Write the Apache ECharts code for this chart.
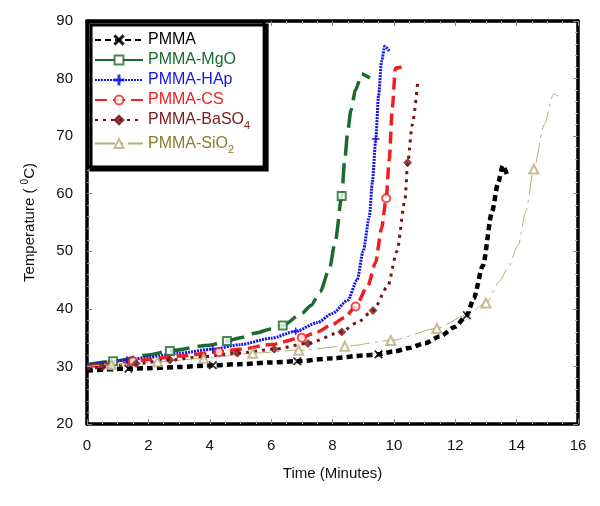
<!DOCTYPE html>
<html>
<head>
<meta charset="utf-8">
<title>Temperature vs Time</title>
<script src="https://cdn.jsdelivr.net/npm/echarts@6/dist/echarts.min.js"></script>
<style>
    html, body { margin: 0; padding: 0; background: #fff; }
    #chart { width: 600px; height: 506px; }
</style>
</head>
<body>
<div id="chart"></div>
<script>
// values (time in minutes, temperature in °C)
const pmmaTime = [0, 1.35, 2, 3, 4.1, 5, 6, 6.85, 8, 9, 9.5, 10, 10.5, 11, 11.5, 12, 12.38, 12.6, 12.9, 13.2, 13.4, 13.55, 13.7];
const pmmaTemp = [29.3, 29.6, 29.7, 29.9, 30.2, 30.4, 30.7, 30.9, 31.4, 31.9, 32.1, 32.6, 33.2, 34, 35.2, 36.9, 38.9, 41.8, 47.5, 56.9, 62, 64.9, 63.1];
const pmmaMarks = [1, 4, 7, 10, 16];

const mgoTime = [0, 0.85, 2, 2.7, 4, 4.56, 5, 5.5, 6, 6.38, 7, 7.3, 7.6, 7.9, 8.1, 8.3, 8.4, 8.5, 8.6, 8.75, 8.95, 9.22];
const mgoTemp = [30.3, 30.9, 32, 32.7, 33.7, 34.4, 35, 35.8, 36.5, 37.1, 39.2, 40.6, 43, 47, 52, 59.6, 66, 71, 74.5, 78, 80.8, 80.1];
const mgoMarks = [1, 3, 5, 9, 15];

const hapTime = [0, 1.3, 2, 3, 4.1, 5, 6, 6.8, 7.5, 8, 8.5, 8.8, 9.0, 9.2, 9.3, 9.41, 9.5, 9.6, 9.7, 9.85];
const hapTemp = [30.2, 31.1, 31.6, 32.3, 33.0, 33.8, 34.9, 36.1, 37.6, 39.2, 41.5, 45, 50, 56, 62, 69.5, 77, 83, 85.6, 84.8];
const hapMarks = [1, 4, 7, 15];

const csTime = [0, 1.5, 2, 3, 4.3, 5, 6, 7, 7.5, 8, 8.4, 8.75, 9.15, 9.4, 9.6, 9.75, 9.85, 9.95, 10.05, 10.25];
const csTemp = [29.9, 30.9, 31.2, 31.8, 32.5, 33, 33.8, 35, 36, 37.3, 38.5, 40.4, 44, 48, 54, 59.2, 66, 75, 81.8, 82];
const csMarks = [1, 4, 7, 11, 15];

const baTime = [0, 0.5, 1.6, 2.7, 3.8, 4.9, 6.1, 7.2, 8.3, 8.8, 9.32, 9.8, 10.1, 10.36, 10.45, 10.6, 10.78];
const baTemp = [29.6, 29.9, 30.5, 31.1, 31.7, 32.3, 33, 34, 36, 37.6, 39.7, 43.9, 50, 58.8, 65.4, 72, 79.6];
const baMarks = [1, 2, 3, 4, 5, 6, 7, 8, 10, 14];

const sioTime = [0, 0.8, 2.3, 3.8, 5.4, 6.9, 8.4, 9.9, 11.4, 12.35, 13.0, 13.45, 13.7, 14.05, 14.3, 14.56, 14.9, 15.2, 15.35];
const sioTemp = [30, 30.3, 30.8, 31.4, 32.3, 32.8, 33.5, 34.5, 36.6, 38.9, 41, 44.8, 47, 51, 56.9, 64.3, 72, 77.3, 77];
const sioMarks = [1, 2, 3, 4, 5, 6, 7, 8, 10, 15];

const seriesNames = ['PMMA', 'PMMA-MgO', 'PMMA-HAp', 'PMMA-CS', 'PMMA-BaSO4', 'PMMA-SiO2'];
const xTicks = { min: 0, max: 16, step: 2 };
const yTicks = { min: 20, max: 90, step: 10 };

const FONT = 'Liberation Sans, Arial, sans-serif';
const crossPath = 'path://M0,1L1,0L5,4L9,0L10,1L6,5L10,9L9,10L5,6L1,10L0,9L4,5Z';
const plusPath = 'path://M4.4,0L5.6,0L5.6,4.4L10,4.4L10,5.6L5.6,5.6L5.6,10L4.4,10L4.4,5.6L0,5.6L0,4.4L4.4,4.4Z';

// only the listed points carry a marker, the rest of the line is bare
function buildData(times, temps, marks) {
    return times.map((t, i) => {
        const item = { value: [t, temps[i]] };
        if (marks.indexOf(i) < 0) item.symbol = 'none';
        return item;
    });
}

function lineSeries(name, times, temps, marks, color, width, dash, symbol, size) {
    return {
        name: name,
        type: 'line',
        data: buildData(times, temps, marks),
        smooth: 0.25,
        smoothMonotone: 'x',
        showSymbol: true,
        symbol: symbol,
        symbolSize: size,
        lineStyle: { color: color, width: width, type: dash, cap: 'butt' },
        itemStyle: { color: color, borderColor: color, borderWidth: 0.8, opacity: 0.8 },
        emphasis: { disabled: true },
        animation: false
    };
}

const series = [
    lineSeries(seriesNames[0], pmmaTime, pmmaTemp, pmmaMarks, '#000000', 4.5, [6, 4], crossPath, 8),
    lineSeries(seriesNames[1], mgoTime, mgoTemp, mgoMarks, '#1b6b2e', 3.5, [20, 8], 'emptyRect', 8),
    lineSeries(seriesNames[2], hapTime, hapTemp, hapMarks, '#1515e6', 3, [2, 1], plusPath, 7),
    lineSeries(seriesNames[3], csTime, csTemp, csMarks, '#f01e1e', 3.5, [12, 6], 'emptyCircle', 8),
    lineSeries(seriesNames[4], baTime, baTemp, baMarks, '#7a1212', 3, [3, 5], 'diamond', 8),
    lineSeries(seriesNames[5], sioTime, sioTemp, sioMarks, '#b9ab7c', 1, [20, 5, 3, 5], 'emptyTriangle', 9)
];

const legendColors = ['#000000', '#1b6b2e', '#1515e6', '#f01e1e', '#7a1a1a', '#8c7a30'];

function legendLabel(name) {
    const i = seriesNames.indexOf(name);
    if (name === 'PMMA-BaSO4') return '{t' + i + '|PMMA-BaSO}{s' + i + '|4}';
    if (name === 'PMMA-SiO2') return '{t' + i + '|PMMA-SiO}{s' + i + '|2}';
    return '{t' + i + '|' + name + '}';
}

const legendRich = {};
legendColors.forEach((c, i) => {
    legendRich['t' + i] = { color: c, fontSize: 16, fontFamily: FONT };
    legendRich['s' + i] = { color: c, fontSize: 11, fontFamily: FONT, padding: [12, 0, 0, 0] };
});

function frameAxis(extra) {
    return Object.assign({
        axisLine: { show: true, onZero: false, lineStyle: { color: '#000', width: 3.5 } },
        axisTick: { show: true, inside: true, length: 5, lineStyle: { color: '#888', width: 1 } },
        minorTick: { show: true, splitNumber: 4, length: 3, lineStyle: { color: '#aaa' } },
        splitLine: { show: false }
    }, extra);
}

const chart = echarts.init(document.getElementById('chart'), null, { renderer: 'canvas' });

chart.setOption({
    backgroundColor: '#ffffff',
    animation: false,
    grid: { left: 87, right: 22, top: 21, bottom: 82 },
    legend: {
        left: 88,
        top: 22,
        orient: 'vertical',
        data: seriesNames,
        formatter: legendLabel,
        itemWidth: 48,
        itemHeight: 11,
        itemGap: 4,
        padding: [10, 14, 12, 6],
        backgroundColor: '#fff',
        borderColor: '#000',
        borderWidth: 3,
        shadowColor: '#000',
        shadowBlur: 0,
        shadowOffsetX: 3,
        shadowOffsetY: 3,
        selectedMode: false,
        textStyle: { fontSize: 16, fontFamily: FONT, rich: legendRich }
    },
    xAxis: [
        frameAxis({
            type: 'value', min: xTicks.min, max: xTicks.max, interval: xTicks.step,
            position: 'bottom',
            name: 'Time (Minutes)', nameLocation: 'middle', nameGap: 42,
            nameTextStyle: { fontSize: 15, color: '#111', fontFamily: FONT },
            axisLabel: { fontSize: 15, color: '#111', margin: 14, fontFamily: FONT }
        }),
        frameAxis({
            type: 'value', min: xTicks.min, max: xTicks.max, interval: xTicks.step,
            position: 'top', axisLabel: { show: false }
        })
    ],
    yAxis: [
        frameAxis({
            type: 'value', min: yTicks.min, max: yTicks.max, interval: yTicks.step,
            position: 'left',
            minorTick: { show: true, splitNumber: 5, length: 3, lineStyle: { color: '#aaa' } },
            name: '{n|Temperature ( }{sup|0}{n|C)}', nameLocation: 'middle', nameGap: 47, nameRotate: 90,
            nameTextStyle: {
                fontSize: 15, color: '#111', fontFamily: FONT,
                rich: {
                    n: { fontSize: 15, color: '#111', fontFamily: FONT },
                    sup: { fontSize: 10, color: '#111', fontFamily: FONT, padding: [0, 0, 10, 0] }
                }
            },
            axisLabel: { fontSize: 15, color: '#111', margin: 14, fontFamily: FONT }
        }),
        frameAxis({
            type: 'value', min: yTicks.min, max: yTicks.max, interval: yTicks.step,
            position: 'right', axisLabel: { show: false },
            minorTick: { show: true, splitNumber: 5, length: 3, lineStyle: { color: '#aaa' } }
        })
    ],
    series: series
});
</script>
</body>
</html>
